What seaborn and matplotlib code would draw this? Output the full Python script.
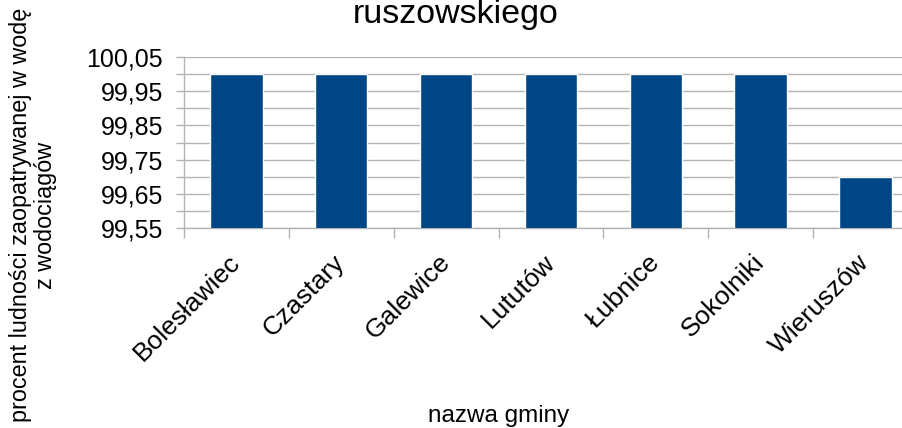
import matplotlib
matplotlib.use("Agg")
import matplotlib.pyplot as plt
import seaborn as sns
from matplotlib.ticker import FixedLocator, FixedFormatter

# dane
gminy = ["Bolesławiec", "Czastary", "Galewice", "Lututów", "Łubnice", "Sokolniki", "Wieruszów"]
procent = [100.0, 100.0, 100.0, 100.0, 100.0, 100.0, 99.7]
y_ticks = [99.55, 99.65, 99.75, 99.85, 99.95, 100.05]
y_labels = ["99,55", "99,65", "99,75", "99,85", "99,95", "100,05"]
y_minor = [99.6, 99.7, 99.8, 99.9, 100.0]

tytul = "ruszowskiego"
ylab = "procent ludności zaopatrywanej w wodę\nz wodociągów"
xlab = "nazwa gminy"

sns.set_style("white")
plt.rcParams["font.family"] = ["Liberation Sans", "DejaVu Sans"]
plt.rcParams["text.color"] = "black"
plt.rcParams["xtick.color"] = "black"
plt.rcParams["ytick.color"] = "black"

fig = plt.figure(figsize=(9.03, 4.28), dpi=100)
ax = fig.add_axes([184 / 903, 200 / 428, 734 / 903, 171 / 428])

sns.barplot(x=gminy, y=procent, color="#004586", saturation=1, width=0.5, ax=ax, zorder=3)

grid_c = "#b3b3b3"
ax.set_ylim(99.55, 100.05)
ax.set_xlim(-0.5, 6.5)
ax.yaxis.set_major_locator(FixedLocator(y_ticks))
ax.yaxis.set_major_formatter(FixedFormatter(y_labels))
ax.yaxis.set_minor_locator(FixedLocator(y_minor))
ax.grid(axis="y", which="both", color=grid_c, lw=1, zorder=0)
ax.set_axisbelow(True)

ax.tick_params(axis="y", which="both", left=True, length=6, width=1, color=grid_c,
               labelcolor="black", labelsize=18, pad=9)
ax.xaxis.set_minor_locator(FixedLocator([i - 0.5 for i in range(len(gminy) + 1)]))
ax.tick_params(axis="x", which="minor", bottom=True, length=7, width=1, color=grid_c)
ax.tick_params(axis="x", which="major", length=0, labelcolor="black", labelsize=19, pad=22)
for lab in ax.get_xticklabels():
    lab.set_rotation(45)
    lab.set_ha("right")
    lab.set_va("center")
    lab.set_rotation_mode("anchor")

for s in ["top", "right"]:
    ax.spines[s].set_visible(False)
for s in ["left", "bottom"]:
    ax.spines[s].set_color(grid_c)
    ax.spines[s].set_linewidth(1)
ax.set_xlabel("")
ax.set_ylabel("")

fig.text(456 / 903, 1 - 23 / 428, tytul, ha="center", va="baseline", fontsize=24.5)
fig.text(33 / 903, 1 - 215 / 428, ylab, rotation=90, ha="center", va="center",
         multialignment="center", fontsize=16.8, linespacing=1.15)
fig.text(499 / 903, 6 / 428, xlab, ha="center", va="baseline", fontsize=17.5)

fig.savefig("out.png", dpi=100)
